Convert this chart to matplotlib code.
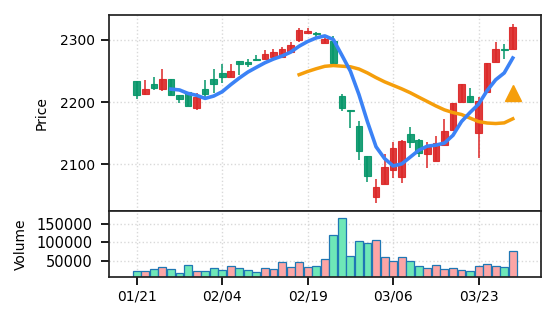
import matplotlib
matplotlib.use("Agg")
import matplotlib.pyplot as plt
import numpy as np
import pandas as pd

# ---- data ----
opens = [2234, 2213, 2229, 2221, 2238, 2211, 2217, 2190, 2221, 2237,
         2247, 2240, 2266, 2265, 2270, 2269, 2272, 2272, 2281, 2300,
         2311, 2311, 2295, 2298, 2210, 2188, 2161, 2113, 2048, 2069,
         2091, 2079, 2149, 2139, 2116, 2105, 2131, 2155, 2200, 2210,
         2150, 2217, 2264, 2286, 2286]
highs = [2234, 2236, 2241, 2254, 2238, 2211, 2217, 2215, 2236, 2253,
         2261, 2261, 2267, 2270, 2276, 2284, 2286, 2289, 2297, 2319,
         2319, 2313, 2305, 2306, 2213, 2188, 2170, 2113, 2077, 2116,
         2136, 2139, 2160, 2140, 2136, 2146, 2173, 2198, 2229, 2222,
         2208, 2263, 2296, 2293, 2325]
lows = [2205, 2212, 2219, 2218, 2211, 2199, 2193, 2188, 2209, 2215,
        2231, 2240, 2243, 2257, 2266, 2269, 2272, 2272, 2281, 2297,
        2311, 2302, 2295, 2262, 2186, 2158, 2107, 2072, 2038, 2068,
        2078, 2070, 2126, 2111, 2094, 2105, 2131, 2155, 2200, 2199,
        2110, 2217, 2264, 2270, 2285]
closes = [2212, 2221, 2223, 2238, 2211, 2205, 2193, 2208, 2213, 2230,
          2240, 2250, 2261, 2261, 2268, 2277, 2280, 2285, 2292, 2316,
          2315, 2309, 2301, 2263, 2190, 2186, 2121, 2081, 2063, 2095,
          2127, 2137, 2136, 2118, 2128, 2135, 2154, 2198, 2229, 2201,
          2202, 2263, 2285, 2284, 2321]
volumes = [21500, 21500, 27000, 32600, 27000, 16000, 38000, 21500, 21500, 30000,
           24300, 35300, 30000, 24300, 18800, 30000, 27000, 46300, 32600, 46300,
           32600, 35300, 54600, 120600, 166500, 62800, 104000, 98600, 106900, 60000,
           49100, 60000, 49100, 35300, 30000, 38000, 27000, 30000, 24300, 21500,
           35300, 40800, 35300, 32600, 76600]
tick_idx = [0, 10, 20, 30, 40]
tick_labels = ["01/21", "02/04", "02/19", "03/06", "03/23"]
signal_idx = [44]
signal_price = [2215]

# ---- style ----
UP = "#dc2626"
DOWN = "#059669"
UP_V = "#fca5a5"
DOWN_V = "#6ee7b7"
plt.rcParams["font.family"] = ["DejaVu Sans"]
plt.rcParams["font.size"] = 10

fig = plt.figure(figsize=(5.56, 3.22), dpi=100)
ax = fig.add_axes([0.196, 0.345, 0.777, 0.608])
axv = fig.add_axes([0.196, 0.141, 0.777, 0.204], sharex=ax)

x = np.arange(len(closes))
o = np.array(opens); h = np.array(highs); l = np.array(lows); c = np.array(closes)
up = c >= o
colors = np.where(up, UP, DOWN)

# wicks
ax.vlines(x, l, h, colors=colors, linewidth=1.1, zorder=2)
# bodies
bottoms = np.minimum(o, c)
heights = np.maximum(np.abs(c - o), 0.8)
ax.bar(x, heights, bottom=bottoms, width=0.78, color=colors, edgecolor=colors,
       linewidth=0.8, alpha=0.9, zorder=2)

s = pd.Series(closes, dtype=float)
ma5 = s.rolling(5).mean()
ma20 = s.rolling(20).mean()
ax.plot(x, ma20, color="#f59e0b", linewidth=2.5, zorder=3)
ax.plot(x, ma5, color="#3b82f6", linewidth=2.6, zorder=4)
ax.plot(signal_idx, signal_price, marker="^", color="#f59e0b", markersize=12,
        linestyle="none", zorder=5)

ax.set_ylim(2025, 2340)
ax.set_yticks([2100, 2200, 2300])
ax.set_ylabel("Price", labelpad=8)
ax.grid(True, linestyle=":", color="#d9d9d9", linewidth=1)
ax.tick_params(axis="x", which="both", bottom=False, labelbottom=False)
ax.tick_params(axis="y", length=6, width=1.25, pad=4, labelsize=10)

vcolors = np.where(up, UP_V, DOWN_V)
axv.bar(x, volumes, width=0.92, color=vcolors, edgecolor="#1f77b4", linewidth=0.9, zorder=2)
axv.set_ylim(6900, 185000)
axv.set_yticks([50000, 100000, 150000])
axv.set_ylabel("Volume", labelpad=6)
axv.grid(True, linestyle=":", color="#d9d9d9", linewidth=1)
axv.set_xticks(tick_idx)
axv.set_xticklabels(tick_labels)
axv.tick_params(axis="x", length=6, width=1.25, labelsize=10)
axv.tick_params(axis="y", length=6, width=1.25, labelsize=10.5, pad=6)
axv.set_xlim(-3.25, 47.3)

for a in (ax, axv):
    for sp in a.spines.values():
        sp.set_linewidth(1.25)
        sp.set_color("#222222")
    a.set_axisbelow(True)

fig.savefig("out.png", dpi=100)
